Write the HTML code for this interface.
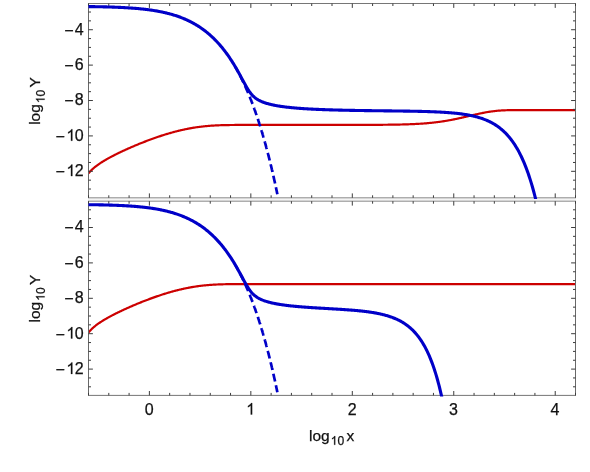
<!DOCTYPE html>
<html><head><meta charset="utf-8"><title>plot</title>
<style>
html,body{margin:0;padding:0;background:#fff;}
body{width:590px;height:472px;overflow:hidden;}
svg{display:block;font-family:"Liberation Sans",sans-serif;font-size:16px;fill:#111;will-change:transform;}
text{stroke:#111;stroke-width:0.25px;}
.al{font-size:15.5px;}
</style></head><body>
<svg width="590" height="472" viewBox="0 0 590 472">
<rect width="590" height="472" fill="#fff"/>
<clipPath id="c0"><rect x="88.00" y="3.50" width="488.30" height="194.90"/></clipPath>
<g clip-path="url(#c0)" fill="none" stroke-linejoin="round">
<path d="M88.50 173.39 L89.20 172.54 L89.89 171.75 L90.59 171.00 L91.29 170.29 L91.98 169.62 L92.68 168.97 L93.38 168.36 L94.07 167.76 L94.77 167.19 L95.47 166.63 L96.16 166.09 L96.86 165.57 L97.56 165.06 L98.25 164.56 L98.95 164.07 L99.65 163.60 L100.34 163.13 L101.04 162.68 L101.74 162.23 L102.43 161.79 L103.13 161.36 L103.83 160.94 L104.52 160.52 L105.22 160.11 L105.92 159.70 L106.61 159.30 L107.31 158.91 L108.01 158.51 L108.70 158.13 L109.40 157.75 L110.10 157.37 L110.80 157.00 L111.49 156.63 L112.19 156.26 L112.89 155.90 L113.58 155.54 L114.28 155.18 L114.98 154.83 L115.67 154.48 L116.37 154.13 L117.07 153.78 L117.76 153.44 L118.46 153.10 L119.16 152.76 L119.85 152.43 L120.55 152.10 L121.25 151.76 L121.94 151.44 L122.64 151.11 L123.34 150.79 L124.03 150.46 L124.73 150.14 L125.43 149.83 L126.12 149.51 L126.82 149.19 L127.52 148.88 L128.21 148.57 L128.91 148.26 L129.61 147.95 L130.30 147.65 L131.00 147.35 L131.70 147.04 L132.39 146.74 L133.09 146.44 L133.79 146.15 L134.48 145.85 L135.18 145.56 L135.88 145.27 L136.57 144.98 L137.27 144.69 L137.97 144.40 L138.66 144.11 L139.36 143.83 L140.06 143.55 L140.75 143.27 L141.45 142.99 L142.15 142.71 L142.84 142.43 L143.54 142.16 L144.24 141.89 L144.93 141.62 L145.63 141.35 L146.33 141.08 L147.02 140.81 L147.72 140.55 L148.42 140.29 L149.11 140.03 L149.81 139.77 L150.51 139.51 L151.20 139.25 L151.90 139.00 L152.60 138.75 L153.30 138.50 L153.99 138.25 L154.69 138.00 L155.39 137.76 L156.08 137.52 L156.78 137.28 L157.48 137.04 L158.17 136.80 L158.87 136.56 L159.57 136.33 L160.26 136.10 L160.96 135.87 L161.66 135.64 L162.35 135.42 L163.05 135.20 L163.75 134.97 L164.44 134.76 L165.14 134.54 L165.84 134.32 L166.53 134.11 L167.23 133.90 L167.93 133.69 L168.62 133.49 L169.32 133.28 L170.02 133.08 L170.71 132.88 L171.41 132.69 L172.11 132.49 L172.80 132.30 L173.50 132.11 L174.20 131.92 L174.89 131.74 L175.59 131.55 L176.29 131.37 L176.98 131.20 L177.68 131.02 L178.38 130.85 L179.07 130.68 L179.77 130.51 L180.47 130.34 L181.16 130.18 L181.86 130.02 L182.56 129.86 L183.25 129.71 L183.95 129.56 L184.65 129.41 L185.34 129.26 L186.04 129.12 L186.74 128.98 L187.43 128.84 L188.13 128.70 L188.83 128.57 L189.52 128.44 L190.22 128.31 L190.92 128.18 L191.61 128.06 L192.31 127.94 L193.01 127.82 L193.70 127.71 L194.40 127.60 L195.10 127.49 L195.80 127.38 L196.49 127.28 L197.19 127.18 L197.89 127.08 L198.58 126.99 L199.28 126.89 L199.98 126.80 L200.67 126.72 L201.37 126.63 L202.07 126.55 L202.76 126.47 L203.46 126.40 L204.16 126.32 L204.85 126.25 L205.55 126.18 L206.25 126.11 L206.94 126.05 L207.64 125.99 L208.34 125.93 L209.03 125.87 L209.73 125.82 L210.43 125.76 L211.12 125.71 L211.82 125.67 L212.52 125.62 L213.21 125.58 L213.91 125.54 L214.61 125.50 L215.30 125.46 L216.00 125.42 L216.70 125.39 L217.39 125.36 L218.09 125.33 L218.79 125.30 L219.48 125.27 L220.18 125.24 L220.88 125.22 L221.57 125.20 L222.27 125.18 L222.97 125.16 L223.66 125.14 L224.36 125.12 L225.06 125.10 L225.75 125.09 L226.45 125.08 L227.15 125.06 L227.84 125.05 L228.54 125.04 L229.24 125.03 L229.93 125.02 L230.63 125.01 L231.33 125.00 L232.02 125.00 L232.72 124.99 L233.42 124.98 L234.11 124.98 L234.81 124.97 L235.51 124.97 L236.20 124.97 L236.90 124.96 L237.60 124.96 L238.30 124.96 L238.99 124.95 L239.69 124.95 L240.39 124.95 L241.08 124.95 L241.78 124.95 L242.48 124.95 L243.17 124.94 L243.87 124.94 L244.57 124.94 L245.26 124.94 L245.96 124.94 L246.66 124.94 L247.35 124.94 L248.05 124.94 L248.75 124.94 L249.44 124.94 L250.14 124.94 L250.84 124.94 L251.53 124.94 L252.23 124.94 L252.93 124.94 L253.62 124.94 L254.32 124.94 L255.02 124.94 L255.71 124.94 L256.41 124.94 L257.11 124.94 L257.80 124.94 L258.50 124.94 L259.20 124.94 L259.89 124.94 L260.59 124.94 L261.29 124.94 L261.98 124.94 L262.68 124.94 L263.38 124.94 L264.07 124.94 L264.77 124.94 L265.47 124.94 L266.16 124.94 L266.86 124.94 L267.56 124.94 L268.25 124.94 L268.95 124.94 L269.65 124.94 L270.34 124.94 L271.04 124.94 L271.74 124.94 L272.43 124.94 L273.13 124.94 L273.83 124.94 L274.52 124.94 L275.22 124.94 L275.92 124.94 L276.61 124.94 L277.31 124.94 L278.01 124.94 L278.70 124.94 L279.40 124.94 L280.10 124.94 L280.80 124.94 L281.49 124.94 L282.19 124.94 L282.89 124.94 L283.58 124.94 L284.28 124.94 L284.98 124.94 L285.67 124.94 L286.37 124.94 L287.07 124.94 L287.76 124.94 L288.46 124.94 L289.16 124.94 L289.85 124.94 L290.55 124.94 L291.25 124.94 L291.94 124.94 L292.64 124.94 L293.34 124.94 L294.03 124.94 L294.73 124.94 L295.43 124.94 L296.12 124.94 L296.82 124.94 L297.52 124.94 L298.21 124.94 L298.91 124.94 L299.61 124.94 L300.30 124.94 L301.00 124.94 L301.70 124.93 L302.39 124.93 L303.09 124.93 L303.79 124.93 L304.48 124.93 L305.18 124.93 L305.88 124.93 L306.57 124.93 L307.27 124.93 L307.97 124.93 L308.66 124.93 L309.36 124.93 L310.06 124.93 L310.75 124.93 L311.45 124.93 L312.15 124.93 L312.84 124.93 L313.54 124.93 L314.24 124.93 L314.93 124.93 L315.63 124.93 L316.33 124.93 L317.02 124.93 L317.72 124.93 L318.42 124.93 L319.11 124.93 L319.81 124.93 L320.51 124.93 L321.20 124.93 L321.90 124.93 L322.60 124.93 L323.29 124.93 L323.99 124.93 L324.69 124.93 L325.39 124.93 L326.08 124.93 L326.78 124.93 L327.48 124.93 L328.17 124.93 L328.87 124.93 L329.57 124.93 L330.26 124.93 L330.96 124.93 L331.66 124.93 L332.35 124.93 L333.05 124.93 L333.75 124.93 L334.44 124.93 L335.14 124.93 L335.84 124.93 L336.53 124.92 L337.23 124.92 L337.93 124.92 L338.62 124.92 L339.32 124.92 L340.02 124.92 L340.71 124.92 L341.41 124.92 L342.11 124.92 L342.80 124.92 L343.50 124.92 L344.20 124.92 L344.89 124.92 L345.59 124.92 L346.29 124.92 L346.98 124.92 L347.68 124.91 L348.38 124.91 L349.07 124.91 L349.77 124.91 L350.47 124.91 L351.16 124.91 L351.86 124.91 L352.56 124.91 L353.25 124.91 L353.95 124.91 L354.65 124.90 L355.34 124.90 L356.04 124.90 L356.74 124.90 L357.43 124.90 L358.13 124.90 L358.83 124.90 L359.52 124.89 L360.22 124.89 L360.92 124.89 L361.61 124.89 L362.31 124.89 L363.01 124.88 L363.70 124.88 L364.40 124.88 L365.10 124.88 L365.79 124.88 L366.49 124.87 L367.19 124.87 L367.89 124.87 L368.58 124.87 L369.28 124.86 L369.98 124.86 L370.67 124.86 L371.37 124.85 L372.07 124.85 L372.76 124.85 L373.46 124.84 L374.16 124.84 L374.85 124.84 L375.55 124.83 L376.25 124.83 L376.94 124.82 L377.64 124.82 L378.34 124.81 L379.03 124.81 L379.73 124.80 L380.43 124.80 L381.12 124.79 L381.82 124.79 L382.52 124.78 L383.21 124.77 L383.91 124.77 L384.61 124.76 L385.30 124.75 L386.00 124.75 L386.70 124.74 L387.39 124.73 L388.09 124.72 L388.79 124.72 L389.48 124.71 L390.18 124.70 L390.88 124.69 L391.57 124.68 L392.27 124.67 L392.97 124.66 L393.66 124.65 L394.36 124.64 L395.06 124.62 L395.75 124.61 L396.45 124.60 L397.15 124.59 L397.84 124.57 L398.54 124.56 L399.24 124.54 L399.93 124.53 L400.63 124.51 L401.33 124.49 L402.02 124.48 L402.72 124.46 L403.42 124.44 L404.11 124.42 L404.81 124.40 L405.51 124.38 L406.20 124.36 L406.90 124.34 L407.60 124.32 L408.29 124.29 L408.99 124.27 L409.69 124.24 L410.39 124.21 L411.08 124.19 L411.78 124.16 L412.48 124.13 L413.17 124.10 L413.87 124.07 L414.57 124.03 L415.26 124.00 L415.96 123.97 L416.66 123.93 L417.35 123.89 L418.05 123.85 L418.75 123.81 L419.44 123.77 L420.14 123.73 L420.84 123.69 L421.53 123.64 L422.23 123.59 L422.93 123.54 L423.62 123.49 L424.32 123.44 L425.02 123.39 L425.71 123.33 L426.41 123.28 L427.11 123.22 L427.80 123.16 L428.50 123.10 L429.20 123.03 L429.89 122.97 L430.59 122.90 L431.29 122.83 L431.98 122.76 L432.68 122.68 L433.38 122.61 L434.07 122.53 L434.77 122.45 L435.47 122.37 L436.16 122.28 L436.86 122.20 L437.56 122.11 L438.25 122.02 L438.95 121.92 L439.65 121.83 L440.34 121.73 L441.04 121.63 L441.74 121.53 L442.43 121.43 L443.13 121.32 L443.83 121.21 L444.52 121.10 L445.22 120.98 L445.92 120.87 L446.61 120.75 L447.31 120.63 L448.01 120.51 L448.70 120.38 L449.40 120.26 L450.10 120.13 L450.79 120.00 L451.49 119.86 L452.19 119.73 L452.89 119.59 L453.58 119.45 L454.28 119.31 L454.98 119.17 L455.67 119.02 L456.37 118.88 L457.07 118.73 L457.76 118.58 L458.46 118.43 L459.16 118.27 L459.85 118.12 L460.55 117.97 L461.25 117.81 L461.94 117.65 L462.64 117.49 L463.34 117.33 L464.03 117.17 L464.73 117.01 L465.43 116.85 L466.12 116.69 L466.82 116.52 L467.52 116.36 L468.21 116.20 L468.91 116.03 L469.61 115.87 L470.30 115.71 L471.00 115.54 L471.70 115.38 L472.39 115.22 L473.09 115.06 L473.79 114.90 L474.48 114.74 L475.18 114.58 L475.88 114.42 L476.57 114.26 L477.27 114.11 L477.97 113.95 L478.66 113.80 L479.36 113.65 L480.06 113.50 L480.75 113.36 L481.45 113.21 L482.15 113.07 L482.84 112.93 L483.54 112.80 L484.24 112.66 L484.93 112.53 L485.63 112.40 L486.33 112.28 L487.02 112.16 L487.72 112.04 L488.42 111.92 L489.11 111.81 L489.81 111.70 L490.51 111.60 L491.20 111.50 L491.90 111.40 L492.60 111.31 L493.29 111.22 L493.99 111.13 L494.69 111.05 L495.39 110.98 L496.08 110.90 L496.78 110.83 L497.48 110.77 L498.17 110.71 L498.87 110.65 L499.57 110.59 L500.26 110.54 L500.96 110.50 L501.66 110.45 L502.35 110.41 L503.05 110.38 L503.75 110.34 L504.44 110.31 L505.14 110.29 L505.84 110.26 L506.53 110.24 L507.23 110.22 L507.93 110.20 L508.62 110.19 L509.32 110.18 L510.02 110.16 L510.71 110.15 L511.41 110.15 L512.11 110.14 L512.80 110.13 L513.50 110.13 L514.20 110.12 L514.89 110.12 L515.59 110.12 L516.29 110.11 L516.98 110.11 L517.68 110.11 L518.38 110.11 L519.07 110.11 L519.77 110.11 L520.47 110.11 L521.16 110.11 L521.86 110.11 L522.56 110.11 L523.25 110.11 L523.95 110.11 L524.65 110.11 L525.34 110.11 L526.04 110.11 L526.74 110.11 L527.43 110.11 L528.13 110.11 L528.83 110.11 L529.52 110.11 L530.22 110.11 L530.92 110.11 L531.61 110.11 L532.31 110.11 L533.01 110.11 L533.70 110.11 L534.40 110.11 L535.10 110.11 L535.79 110.11 L536.49 110.11 L537.19 110.11 L537.89 110.11 L538.58 110.11 L539.28 110.11 L539.98 110.11 L540.67 110.11 L541.37 110.11 L542.07 110.11 L542.76 110.11 L543.46 110.11 L544.16 110.11 L544.85 110.11 L545.55 110.11 L546.25 110.11 L546.94 110.11 L547.64 110.11 L548.34 110.11 L549.03 110.11 L549.73 110.11 L550.43 110.11 L551.12 110.11 L551.82 110.11 L552.52 110.11 L553.21 110.11 L553.91 110.11 L554.61 110.11 L555.30 110.11 L556.00 110.11 L556.70 110.11 L557.39 110.11 L558.09 110.11 L558.79 110.11 L559.48 110.11 L560.18 110.11 L560.88 110.11 L561.57 110.11 L562.27 110.11 L562.97 110.11 L563.66 110.11 L564.36 110.11 L565.06 110.11 L565.75 110.11 L566.45 110.11 L567.15 110.11 L567.84 110.11 L568.54 110.11 L569.24 110.11 L569.93 110.11 L570.63 110.11 L571.33 110.11 L572.02 110.11 L572.72 110.11 L573.42 110.11 L574.11 110.11 L574.81 110.11 L575.51 110.11" stroke="#cc0000" stroke-width="2.2"/>
</g>
<g stroke="#686868" stroke-width="1" fill="none">
<rect x="88.00" y="197.8" width="488.00" height="3.4" fill="#f4f4f4" stroke="none"/>
<path d="M88.50 3.50 V197.80 M575.50 3.50 V197.80"/>
<path d="M88.00 3.50 H576.00" stroke="#767676"/>
<path d="M88.00 197.80 H576.00" stroke="#8a8a8a"/>
<path stroke="#3c3c3c" d="M88.50 197.80 v-2.50 M88.50 3.50 v2.50 M108.79 197.80 v-2.50 M108.79 3.50 v2.50 M129.08 197.80 v-2.50 M129.08 3.50 v2.50 M149.38 197.80 v-4.40 M149.38 3.50 v4.40 M169.67 197.80 v-2.50 M169.67 3.50 v2.50 M189.96 197.80 v-2.50 M189.96 3.50 v2.50 M210.25 197.80 v-2.50 M210.25 3.50 v2.50 M230.54 197.80 v-2.50 M230.54 3.50 v2.50 M250.84 197.80 v-4.40 M250.84 3.50 v4.40 M271.13 197.80 v-2.50 M271.13 3.50 v2.50 M291.42 197.80 v-2.50 M291.42 3.50 v2.50 M311.71 197.80 v-2.50 M311.71 3.50 v2.50 M332.00 197.80 v-2.50 M332.00 3.50 v2.50 M352.30 197.80 v-4.40 M352.30 3.50 v4.40 M372.59 197.80 v-2.50 M372.59 3.50 v2.50 M392.88 197.80 v-2.50 M392.88 3.50 v2.50 M413.17 197.80 v-2.50 M413.17 3.50 v2.50 M433.46 197.80 v-2.50 M433.46 3.50 v2.50 M453.76 197.80 v-4.40 M453.76 3.50 v4.40 M474.05 197.80 v-2.50 M474.05 3.50 v2.50 M494.34 197.80 v-2.50 M494.34 3.50 v2.50 M514.63 197.80 v-2.50 M514.63 3.50 v2.50 M534.92 197.80 v-2.50 M534.92 3.50 v2.50 M555.22 197.80 v-4.40 M555.22 3.50 v4.40 M575.51 197.80 v-2.50 M575.51 3.50 v2.50 M88.50 189.02 h2.50 M575.50 189.02 h-2.50 M88.50 180.17 h2.50 M575.50 180.17 h-2.50 M88.50 171.32 h4.40 M575.50 171.32 h-4.40 M88.50 162.47 h2.50 M575.50 162.47 h-2.50 M88.50 153.62 h2.50 M575.50 153.62 h-2.50 M88.50 144.77 h2.50 M575.50 144.77 h-2.50 M88.50 135.92 h4.40 M575.50 135.92 h-4.40 M88.50 127.07 h2.50 M575.50 127.07 h-2.50 M88.50 118.22 h2.50 M575.50 118.22 h-2.50 M88.50 109.37 h2.50 M575.50 109.37 h-2.50 M88.50 100.52 h4.40 M575.50 100.52 h-4.40 M88.50 91.67 h2.50 M575.50 91.67 h-2.50 M88.50 82.82 h2.50 M575.50 82.82 h-2.50 M88.50 73.97 h2.50 M575.50 73.97 h-2.50 M88.50 65.12 h4.40 M575.50 65.12 h-4.40 M88.50 56.27 h2.50 M575.50 56.27 h-2.50 M88.50 47.42 h2.50 M575.50 47.42 h-2.50 M88.50 38.57 h2.50 M575.50 38.57 h-2.50 M88.50 29.72 h4.40 M575.50 29.72 h-4.40 M88.50 20.87 h2.50 M575.50 20.87 h-2.50 M88.50 12.02 h2.50 M575.50 12.02 h-2.50"/>
</g>
<clipPath id="b0"><rect x="88.00" y="3.00" width="488.30" height="196.00"/></clipPath>
<g clip-path="url(#b0)" fill="none" stroke-linejoin="round">
<path d="M235.62 67.44 L235.73 67.64 L235.85 67.84 L235.96 68.04 L236.07 68.24 L236.19 68.44 L236.30 68.64 L236.42 68.84 L236.53 69.05 L236.65 69.25 L236.76 69.45 L236.88 69.66 L236.99 69.86 L237.10 70.07 L237.22 70.27 L237.33 70.48 L237.45 70.69 L237.56 70.90 L237.68 71.11 L237.79 71.31 L237.91 71.52 L238.02 71.73 L238.13 71.95 L238.25 72.16 L238.36 72.37 L238.48 72.58 L238.59 72.80 L238.71 73.01 L238.82 73.23 L238.94 73.44 L239.05 73.66 L239.16 73.87 L239.28 74.09 L239.39 74.31 L239.51 74.53 L239.62 74.75 L239.74 74.97 L239.85 75.19 L239.97 75.41 L240.08 75.63 L240.19 75.85 L240.31 76.08 L240.42 76.30 L240.54 76.52 L240.65 76.75 L240.77 76.98 L240.88 77.20 L241.00 77.43 L241.11 77.66 L241.22 77.88 L241.34 78.11 L241.45 78.34 L241.57 78.57 L241.68 78.80 L241.80 79.04 L241.91 79.27 L242.02 79.50 L242.14 79.73 L242.25 79.97 L242.37 80.20 L242.48 80.44 L242.60 80.68 L242.71 80.91 L242.83 81.15 L242.94 81.39 L243.05 81.63 L243.17 81.87 L243.28 82.11 L243.40 82.35 L243.51 82.59 L243.63 82.83 L243.74 83.08 L243.86 83.32 L243.97 83.56 L244.08 83.81 L244.20 84.06 L244.31 84.30 L244.43 84.55 L244.54 84.80 L244.66 85.05 L244.77 85.30 L244.89 85.55 L245.00 85.80 L245.11 86.05 L245.23 86.30 L245.34 86.55 L245.46 86.81 L245.57 87.06 L245.69 87.32 L245.80 87.57 L245.92 87.83 L246.03 88.09 L246.14 88.35 L246.26 88.61 L246.37 88.86 L246.49 89.13 L246.60 89.39 L246.72 89.65 L246.83 89.91 L246.95 90.17 L247.06 90.44 L247.17 90.70 L247.29 90.97 L247.40 91.24 L247.52 91.50 L247.63 91.77 L247.75 92.04 L247.86 92.31 L247.98 92.58 L248.09 92.85 L248.20 93.12 L248.32 93.39 L248.43 93.67 L248.55 93.94 L248.66 94.22 L248.78 94.49 L248.89 94.77 L249.01 95.05 L249.12 95.32 L249.23 95.60 L249.35 95.88 L249.46 96.16 L249.58 96.44 L249.69 96.73 L249.81 97.01 L249.92 97.29 L250.03 97.58 L250.15 97.86 L250.26 98.15 L250.38 98.43 L250.49 98.72 L250.61 99.01 L250.72 99.30 L250.84 99.59 L250.95 99.88 L251.06 100.17 L251.18 100.47 L251.29 100.76 L251.41 101.05 L251.52 101.35 L251.64 101.64 L251.75 101.94 L251.87 102.24 L251.98 102.54 L252.09 102.84 L252.21 103.14 L252.32 103.44 L252.44 103.74 L252.55 104.04 L252.67 104.34 L252.78 104.65 L252.90 104.95 L253.01 105.26 L253.12 105.57 L253.24 105.88 L253.35 106.18 L253.47 106.49 L253.58 106.80 L253.70 107.11 L253.81 107.43 L253.93 107.74 L254.04 108.05 L254.15 108.37 L254.27 108.68 L254.38 109.00 L254.50 109.32 L254.61 109.64 L254.73 109.96 L254.84 110.28 L254.96 110.60 L255.07 110.92 L255.18 111.24 L255.30 111.57 L255.41 111.89 L255.53 112.22 L255.64 112.54 L255.76 112.87 L255.87 113.20 L255.99 113.53 L256.10 113.86 L256.21 114.19 L256.33 114.52 L256.44 114.85 L256.56 115.19 L256.67 115.52 L256.79 115.86 L256.90 116.20 L257.02 116.53 L257.13 116.87 L257.24 117.21 L257.36 117.55 L257.47 117.89 L257.59 118.24 L257.70 118.58 L257.82 118.92 L257.93 119.27 L258.04 119.61 L258.16 119.96 L258.27 120.31 L258.39 120.66 L258.50 121.01 L258.62 121.36 L258.73 121.71 L258.85 122.07 L258.96 122.42 L259.07 122.77 L259.19 123.13 L259.30 123.49 L259.42 123.85 L259.53 124.21 L259.65 124.57 L259.76 124.93 L259.88 125.29 L259.99 125.65 L260.10 126.02 L260.22 126.38 L260.33 126.75 L260.45 127.11 L260.56 127.48 L260.68 127.85 L260.79 128.22 L260.91 128.59 L261.02 128.96 L261.13 129.34 L261.25 129.71 L261.36 130.09 L261.48 130.46 L261.59 130.84 L261.71 131.22 L261.82 131.60 L261.94 131.98 L262.05 132.36 L262.16 132.75 L262.28 133.13 L262.39 133.51 L262.51 133.90 L262.62 134.29 L262.74 134.68 L262.85 135.06 L262.97 135.45 L263.08 135.85 L263.19 136.24 L263.31 136.63 L263.42 137.03 L263.54 137.42 L263.65 137.82 L263.77 138.22 L263.88 138.62 L264.00 139.02 L264.11 139.42 L264.22 139.82 L264.34 140.22 L264.45 140.63 L264.57 141.03 L264.68 141.44 L264.80 141.85 L264.91 142.26 L265.03 142.67 L265.14 143.08 L265.25 143.49 L265.37 143.91 L265.48 144.32 L265.60 144.74 L265.71 145.15 L265.83 145.57 L265.94 145.99 L266.05 146.41 L266.17 146.83 L266.28 147.26 L266.40 147.68 L266.51 148.11 L266.63 148.53 L266.74 148.96 L266.86 149.39 L266.97 149.82 L267.08 150.25 L267.20 150.68 L267.31 151.12 L267.43 151.55 L267.54 151.99 L267.66 152.42 L267.77 152.86 L267.89 153.30 L268.00 153.74 L268.11 154.19 L268.23 154.63 L268.34 155.07 L268.46 155.52 L268.57 155.97 L268.69 156.41 L268.80 156.86 L268.92 157.31 L269.03 157.77 L269.14 158.22 L269.26 158.67 L269.37 159.13 L269.49 159.59 L269.60 160.04 L269.72 160.50 L269.83 160.96 L269.95 161.43 L270.06 161.89 L270.17 162.35 L270.29 162.82 L270.40 163.29 L270.52 163.75 L270.63 164.22 L270.75 164.69 L270.86 165.17 L270.98 165.64 L271.09 166.12 L271.20 166.59 L271.32 167.07 L271.43 167.55 L271.55 168.03 L271.66 168.51 L271.78 168.99 L271.89 169.48 L272.01 169.96 L272.12 170.45 L272.23 170.94 L272.35 171.42 L272.46 171.92 L272.58 172.41 L272.69 172.90 L272.81 173.40 L272.92 173.89 L273.04 174.39 L273.15 174.89 L273.26 175.39 L273.38 175.89 L273.49 176.39 L273.61 176.90 L273.72 177.40 L273.84 177.91 L273.95 178.42 L274.06 178.93 L274.18 179.44 L274.29 179.95 L274.41 180.47 L274.52 180.98 L274.64 181.50 L274.75 182.02 L274.87 182.54 L274.98 183.06 L275.09 183.58 L275.21 184.10 L275.32 184.63 L275.44 185.16 L275.55 185.68 L275.67 186.21 L275.78 186.75 L275.90 187.28 L276.01 187.81 L276.12 188.35 L276.24 188.88 L276.35 189.42 L276.47 189.96 L276.58 190.50 L276.70 191.05 L276.81 191.59 L276.93 192.14 L277.04 192.69 L277.15 193.23 L277.27 193.78 L277.38 194.34" stroke="#0000c8" stroke-width="2.7" stroke-dasharray="7.9 3.9" stroke-dashoffset="2.90"/>
<path d="M88.50 6.58 L89.20 6.59 L89.89 6.60 L90.59 6.61 L91.29 6.62 L91.98 6.63 L92.68 6.64 L93.38 6.65 L94.07 6.66 L94.77 6.67 L95.47 6.68 L96.16 6.69 L96.86 6.70 L97.56 6.72 L98.25 6.73 L98.95 6.74 L99.65 6.76 L100.34 6.77 L101.04 6.79 L101.74 6.80 L102.43 6.82 L103.13 6.83 L103.83 6.85 L104.52 6.87 L105.22 6.88 L105.92 6.90 L106.61 6.92 L107.31 6.94 L108.01 6.96 L108.70 6.98 L109.40 7.00 L110.10 7.02 L110.80 7.04 L111.49 7.07 L112.19 7.09 L112.89 7.11 L113.58 7.14 L114.28 7.16 L114.98 7.19 L115.67 7.22 L116.37 7.24 L117.07 7.27 L117.76 7.30 L118.46 7.33 L119.16 7.36 L119.85 7.39 L120.55 7.42 L121.25 7.46 L121.94 7.49 L122.64 7.53 L123.34 7.56 L124.03 7.60 L124.73 7.64 L125.43 7.68 L126.12 7.72 L126.82 7.76 L127.52 7.80 L128.21 7.84 L128.91 7.89 L129.61 7.93 L130.30 7.98 L131.00 8.03 L131.70 8.08 L132.39 8.13 L133.09 8.18 L133.79 8.23 L134.48 8.29 L135.18 8.34 L135.88 8.40 L136.57 8.46 L137.27 8.52 L137.97 8.58 L138.66 8.65 L139.36 8.71 L140.06 8.78 L140.75 8.85 L141.45 8.92 L142.15 8.99 L142.84 9.07 L143.54 9.15 L144.24 9.22 L144.93 9.30 L145.63 9.39 L146.33 9.47 L147.02 9.56 L147.72 9.65 L148.42 9.74 L149.11 9.83 L149.81 9.92 L150.51 10.02 L151.20 10.12 L151.90 10.23 L152.60 10.33 L153.30 10.44 L153.99 10.55 L154.69 10.66 L155.39 10.78 L156.08 10.90 L156.78 11.02 L157.48 11.14 L158.17 11.27 L158.87 11.40 L159.57 11.53 L160.26 11.67 L160.96 11.81 L161.66 11.95 L162.35 12.10 L163.05 12.25 L163.75 12.40 L164.44 12.55 L165.14 12.71 L165.84 12.88 L166.53 13.05 L167.23 13.22 L167.93 13.39 L168.62 13.57 L169.32 13.76 L170.02 13.94 L170.71 14.13 L171.41 14.33 L172.11 14.53 L172.80 14.74 L173.50 14.95 L174.20 15.16 L174.89 15.38 L175.59 15.60 L176.29 15.83 L176.98 16.06 L177.68 16.30 L178.38 16.55 L179.07 16.80 L179.77 17.05 L180.47 17.31 L181.16 17.58 L181.86 17.85 L182.56 18.12 L183.25 18.41 L183.95 18.70 L184.65 18.99 L185.34 19.29 L186.04 19.60 L186.74 19.91 L187.43 20.23 L188.13 20.56 L188.83 20.90 L189.52 21.24 L190.22 21.58 L190.92 21.94 L191.61 22.30 L192.31 22.67 L193.01 23.05 L193.70 23.44 L194.40 23.83 L195.10 24.23 L195.80 24.64 L196.49 25.06 L197.19 25.48 L197.89 25.92 L198.58 26.36 L199.28 26.81 L199.98 27.28 L200.67 27.75 L201.37 28.23 L202.07 28.71 L202.76 29.21 L203.46 29.72 L204.16 30.24 L204.85 30.77 L205.55 31.31 L206.25 31.86 L206.94 32.42 L207.64 32.99 L208.34 33.57 L209.03 34.17 L209.73 34.77 L210.43 35.39 L211.12 36.02 L211.82 36.66 L212.52 37.31 L213.21 37.98 L213.91 38.65 L214.61 39.34 L215.30 40.05 L216.00 40.76 L216.70 41.50 L217.39 42.24 L218.09 43.00 L218.79 43.77 L219.48 44.56 L220.18 45.36 L220.88 46.17 L221.57 47.01 L222.27 47.85 L222.97 48.71 L223.66 49.59 L224.36 50.49 L225.06 51.40 L225.75 52.32 L226.45 53.27 L227.15 54.23 L227.84 55.21 L228.54 56.20 L229.24 57.22 L229.93 58.25 L230.63 59.30 L231.33 60.36 L232.02 61.45 L232.72 62.55 L233.42 63.68 L234.11 64.82 L234.81 65.98 L235.51 67.15 L236.20 68.35 L236.90 69.56 L237.60 70.79 L238.30 72.03 L238.99 73.29 L239.69 74.56 L240.39 75.84 L241.08 77.13 L241.78 78.43 L242.48 79.73 L243.17 81.02 L243.87 82.31 L244.57 83.58 L245.26 84.84 L245.96 86.07 L246.66 87.27 L247.35 88.43 L248.05 89.54 L248.75 90.61 L249.44 91.62 L250.14 92.57 L250.84 93.47 L251.53 94.31 L252.23 95.09 L252.93 95.81 L253.62 96.48 L254.32 97.10 L255.02 97.68 L255.71 98.21 L256.41 98.71 L257.11 99.17 L257.80 99.60 L258.50 100.01 L259.20 100.38 L259.89 100.74 L260.59 101.07 L261.29 101.39 L261.98 101.69 L262.68 101.97 L263.38 102.24 L264.07 102.50 L264.77 102.74 L265.47 102.98 L266.16 103.20 L266.86 103.41 L267.56 103.61 L268.25 103.81 L268.95 104.00 L269.65 104.18 L270.34 104.35 L271.04 104.52 L271.74 104.68 L272.43 104.84 L273.13 104.99 L273.83 105.13 L274.52 105.27 L275.22 105.41 L275.92 105.54 L276.61 105.66 L277.31 105.79 L278.01 105.91 L278.70 106.02 L279.40 106.13 L280.10 106.24 L280.80 106.35 L281.49 106.45 L282.19 106.55 L282.89 106.65 L283.58 106.74 L284.28 106.83 L284.98 106.92 L285.67 107.01 L286.37 107.09 L287.07 107.17 L287.76 107.25 L288.46 107.33 L289.16 107.41 L289.85 107.48 L290.55 107.55 L291.25 107.62 L291.94 107.69 L292.64 107.76 L293.34 107.82 L294.03 107.89 L294.73 107.95 L295.43 108.01 L296.12 108.07 L296.82 108.13 L297.52 108.18 L298.21 108.24 L298.91 108.29 L299.61 108.35 L300.30 108.40 L301.00 108.45 L301.70 108.50 L302.39 108.55 L303.09 108.59 L303.79 108.64 L304.48 108.69 L305.18 108.73 L305.88 108.77 L306.57 108.82 L307.27 108.86 L307.97 108.90 L308.66 108.94 L309.36 108.98 L310.06 109.02 L310.75 109.05 L311.45 109.09 L312.15 109.13 L312.84 109.16 L313.54 109.20 L314.24 109.23 L314.93 109.26 L315.63 109.30 L316.33 109.33 L317.02 109.36 L317.72 109.39 L318.42 109.42 L319.11 109.45 L319.81 109.48 L320.51 109.51 L321.20 109.53 L321.90 109.56 L322.60 109.59 L323.29 109.62 L323.99 109.64 L324.69 109.67 L325.39 109.69 L326.08 109.72 L326.78 109.74 L327.48 109.76 L328.17 109.79 L328.87 109.81 L329.57 109.83 L330.26 109.85 L330.96 109.87 L331.66 109.90 L332.35 109.92 L333.05 109.94 L333.75 109.96 L334.44 109.98 L335.14 110.00 L335.84 110.01 L336.53 110.03 L337.23 110.05 L337.93 110.07 L338.62 110.09 L339.32 110.10 L340.02 110.12 L340.71 110.14 L341.41 110.16 L342.11 110.17 L342.80 110.19 L343.50 110.20 L344.20 110.22 L344.89 110.23 L345.59 110.25 L346.29 110.26 L346.98 110.28 L347.68 110.29 L348.38 110.31 L349.07 110.32 L349.77 110.33 L350.47 110.35 L351.16 110.36 L351.86 110.37 L352.56 110.39 L353.25 110.40 L353.95 110.41 L354.65 110.42 L355.34 110.44 L356.04 110.45 L356.74 110.46 L357.43 110.47 L358.13 110.48 L358.83 110.49 L359.52 110.50 L360.22 110.52 L360.92 110.53 L361.61 110.54 L362.31 110.55 L363.01 110.56 L363.70 110.57 L364.40 110.58 L365.10 110.59 L365.79 110.60 L366.49 110.61 L367.19 110.62 L367.89 110.63 L368.58 110.64 L369.28 110.65 L369.98 110.66 L370.67 110.67 L371.37 110.67 L372.07 110.68 L372.76 110.69 L373.46 110.70 L374.16 110.71 L374.85 110.72 L375.55 110.73 L376.25 110.74 L376.94 110.75 L377.64 110.75 L378.34 110.76 L379.03 110.77 L379.73 110.78 L380.43 110.79 L381.12 110.80 L381.82 110.80 L382.52 110.81 L383.21 110.82 L383.91 110.83 L384.61 110.84 L385.30 110.85 L386.00 110.85 L386.70 110.86 L387.39 110.87 L388.09 110.88 L388.79 110.89 L389.48 110.90 L390.18 110.90 L390.88 110.91 L391.57 110.92 L392.27 110.93 L392.97 110.94 L393.66 110.95 L394.36 110.95 L395.06 110.96 L395.75 110.97 L396.45 110.98 L397.15 110.99 L397.84 111.00 L398.54 111.01 L399.24 111.02 L399.93 111.03 L400.63 111.04 L401.33 111.05 L402.02 111.06 L402.72 111.07 L403.42 111.08 L404.11 111.09 L404.81 111.10 L405.51 111.11 L406.20 111.12 L406.90 111.13 L407.60 111.14 L408.29 111.15 L408.99 111.16 L409.69 111.17 L410.39 111.18 L411.08 111.20 L411.78 111.21 L412.48 111.22 L413.17 111.23 L413.87 111.25 L414.57 111.26 L415.26 111.27 L415.96 111.29 L416.66 111.30 L417.35 111.32 L418.05 111.33 L418.75 111.35 L419.44 111.36 L420.14 111.38 L420.84 111.40 L421.53 111.41 L422.23 111.43 L422.93 111.45 L423.62 111.47 L424.32 111.49 L425.02 111.50 L425.71 111.52 L426.41 111.54 L427.11 111.57 L427.80 111.59 L428.50 111.61 L429.20 111.63 L429.89 111.66 L430.59 111.68 L431.29 111.70 L431.98 111.73 L432.68 111.76 L433.38 111.78 L434.07 111.81 L434.77 111.84 L435.47 111.87 L436.16 111.90 L436.86 111.93 L437.56 111.96 L438.25 112.00 L438.95 112.03 L439.65 112.06 L440.34 112.10 L441.04 112.14 L441.74 112.18 L442.43 112.22 L443.13 112.26 L443.83 112.30 L444.52 112.34 L445.22 112.39 L445.92 112.43 L446.61 112.48 L447.31 112.53 L448.01 112.58 L448.70 112.63 L449.40 112.69 L450.10 112.74 L450.79 112.80 L451.49 112.86 L452.19 112.92 L452.89 112.98 L453.58 113.05 L454.28 113.11 L454.98 113.18 L455.67 113.26 L456.37 113.33 L457.07 113.40 L457.76 113.48 L458.46 113.56 L459.16 113.65 L459.85 113.73 L460.55 113.82 L461.25 113.91 L461.94 114.01 L462.64 114.11 L463.34 114.21 L464.03 114.31 L464.73 114.42 L465.43 114.53 L466.12 114.64 L466.82 114.76 L467.52 114.88 L468.21 115.01 L468.91 115.14 L469.61 115.27 L470.30 115.41 L471.00 115.55 L471.70 115.70 L472.39 115.85 L473.09 116.01 L473.79 116.17 L474.48 116.34 L475.18 116.51 L475.88 116.69 L476.57 116.87 L477.27 117.06 L477.97 117.26 L478.66 117.46 L479.36 117.67 L480.06 117.89 L480.75 118.11 L481.45 118.34 L482.15 118.58 L482.84 118.82 L483.54 119.08 L484.24 119.34 L484.93 119.61 L485.63 119.89 L486.33 120.17 L487.02 120.47 L487.72 120.78 L488.42 121.10 L489.11 121.42 L489.81 121.76 L490.51 122.11 L491.20 122.47 L491.90 122.84 L492.60 123.22 L493.29 123.62 L493.99 124.03 L494.69 124.45 L495.39 124.89 L496.08 125.34 L496.78 125.80 L497.48 126.28 L498.17 126.78 L498.87 127.29 L499.57 127.82 L500.26 128.36 L500.96 128.93 L501.66 129.51 L502.35 130.11 L503.05 130.73 L503.75 131.37 L504.44 132.03 L505.14 132.71 L505.84 133.42 L506.53 134.14 L507.23 134.89 L507.93 135.67 L508.62 136.47 L509.32 137.30 L510.02 138.15 L510.71 139.03 L511.41 139.94 L512.11 140.88 L512.80 141.85 L513.50 142.85 L514.20 143.89 L514.89 144.96 L515.59 146.06 L516.29 147.20 L516.98 148.37 L517.68 149.59 L518.38 150.84 L519.07 152.14 L519.77 153.47 L520.47 154.85 L521.16 156.28 L521.86 157.75 L522.56 159.27 L523.25 160.84 L523.95 162.46 L524.65 164.13 L525.34 165.86 L526.04 167.64 L526.74 169.48 L527.43 171.38 L528.13 173.34 L528.83 175.37 L529.52 177.46 L530.22 179.62 L530.92 181.86 L531.61 184.16 L532.31 186.54 L533.01 188.99 L533.70 191.53 L534.40 194.15 L535.10 196.85 L535.79 199.64 L536.49 202.53 L537.19 205.50 L537.89 208.58" stroke="#0000c8" stroke-width="3.1"/>
</g>
<text x="83.7" y="34.52" text-anchor="end">4</text>
<text x="64.25" y="35.52" stroke-width="0.5">−</text>
<text x="83.7" y="69.92" text-anchor="end">6</text>
<text x="64.25" y="70.92" stroke-width="0.5">−</text>
<text x="83.7" y="105.32" text-anchor="end">8</text>
<text x="64.25" y="106.32" stroke-width="0.5">−</text>
<text x="83.7" y="140.72" text-anchor="end">0</text>
<path d="M763 0H583V1147Q518 1085 412.5 1023T223 930V1104Q374 1175 487 1276T647 1472H763Z" transform="translate(66.40 140.72) scale(0.00781 -0.00781)" fill="#111" stroke="#111" stroke-width="32.0" />
<text x="55.60" y="141.72" stroke-width="0.5">−</text>
<text x="83.7" y="176.12" text-anchor="end">2</text>
<path d="M763 0H583V1147Q518 1085 412.5 1023T223 930V1104Q374 1175 487 1276T647 1472H763Z" transform="translate(66.40 176.12) scale(0.00781 -0.00781)" fill="#111" stroke="#111" stroke-width="32.0" />
<text x="55.60" y="177.12" stroke-width="0.5">−</text>
<g class="al" transform="translate(40.3 100.65) rotate(-90)"><text x="-24.2" y="0">log</text><text x="4.23" y="4.3" font-size="12.1">0</text><path d="M763 0H583V1147Q518 1085 412.5 1023T223 930V1104Q374 1175 487 1276T647 1472H763Z" transform="translate(-2.50 4.30) scale(0.00591 -0.00591)" fill="#111" stroke="#111" stroke-width="42.3" /><text x="13.2" y="0">Y</text></g>
<clipPath id="c1"><rect x="88.00" y="201.20" width="488.30" height="194.80"/></clipPath>
<g clip-path="url(#c1)" fill="none" stroke-linejoin="round">
<path d="M88.50 332.52 L89.20 331.67 L89.89 330.88 L90.59 330.13 L91.29 329.42 L91.98 328.75 L92.68 328.10 L93.38 327.48 L94.07 326.89 L94.77 326.31 L95.47 325.76 L96.16 325.22 L96.86 324.69 L97.56 324.18 L98.25 323.69 L98.95 323.20 L99.65 322.73 L100.34 322.26 L101.04 321.81 L101.74 321.36 L102.43 320.92 L103.13 320.49 L103.83 320.06 L104.52 319.65 L105.22 319.24 L105.92 318.83 L106.61 318.43 L107.31 318.03 L108.01 317.64 L108.70 317.26 L109.40 316.87 L110.10 316.50 L110.80 316.12 L111.49 315.75 L112.19 315.39 L112.89 315.02 L113.58 314.66 L114.28 314.31 L114.98 313.95 L115.67 313.60 L116.37 313.26 L117.07 312.91 L117.76 312.57 L118.46 312.23 L119.16 311.89 L119.85 311.56 L120.55 311.22 L121.25 310.89 L121.94 310.56 L122.64 310.24 L123.34 309.91 L124.03 309.59 L124.73 309.27 L125.43 308.95 L126.12 308.64 L126.82 308.32 L127.52 308.01 L128.21 307.70 L128.91 307.39 L129.61 307.08 L130.30 306.78 L131.00 306.47 L131.70 306.17 L132.39 305.87 L133.09 305.57 L133.79 305.27 L134.48 304.98 L135.18 304.69 L135.88 304.39 L136.57 304.10 L137.27 303.81 L137.97 303.53 L138.66 303.24 L139.36 302.96 L140.06 302.67 L140.75 302.39 L141.45 302.12 L142.15 301.84 L142.84 301.56 L143.54 301.29 L144.24 301.01 L144.93 300.74 L145.63 300.47 L146.33 300.21 L147.02 299.94 L147.72 299.68 L148.42 299.41 L149.11 299.15 L149.81 298.90 L150.51 298.64 L151.20 298.38 L151.90 298.13 L152.60 297.88 L153.30 297.63 L153.99 297.38 L154.69 297.13 L155.39 296.89 L156.08 296.64 L156.78 296.40 L157.48 296.16 L158.17 295.93 L158.87 295.69 L159.57 295.46 L160.26 295.23 L160.96 295.00 L161.66 294.77 L162.35 294.55 L163.05 294.32 L163.75 294.10 L164.44 293.88 L165.14 293.67 L165.84 293.45 L166.53 293.24 L167.23 293.03 L167.93 292.82 L168.62 292.61 L169.32 292.41 L170.02 292.21 L170.71 292.01 L171.41 291.81 L172.11 291.62 L172.80 291.43 L173.50 291.24 L174.20 291.05 L174.89 290.86 L175.59 290.68 L176.29 290.50 L176.98 290.32 L177.68 290.15 L178.38 289.97 L179.07 289.80 L179.77 289.64 L180.47 289.47 L181.16 289.31 L181.86 289.15 L182.56 288.99 L183.25 288.84 L183.95 288.69 L184.65 288.54 L185.34 288.39 L186.04 288.24 L186.74 288.10 L187.43 287.96 L188.13 287.83 L188.83 287.70 L189.52 287.56 L190.22 287.44 L190.92 287.31 L191.61 287.19 L192.31 287.07 L193.01 286.95 L193.70 286.84 L194.40 286.73 L195.10 286.62 L195.80 286.51 L196.49 286.41 L197.19 286.31 L197.89 286.21 L198.58 286.11 L199.28 286.02 L199.98 285.93 L200.67 285.85 L201.37 285.76 L202.07 285.68 L202.76 285.60 L203.46 285.52 L204.16 285.45 L204.85 285.38 L205.55 285.31 L206.25 285.24 L206.94 285.18 L207.64 285.12 L208.34 285.06 L209.03 285.00 L209.73 284.94 L210.43 284.89 L211.12 284.84 L211.82 284.79 L212.52 284.75 L213.21 284.70 L213.91 284.66 L214.61 284.62 L215.30 284.59 L216.00 284.55 L216.70 284.52 L217.39 284.48 L218.09 284.45 L218.79 284.42 L219.48 284.40 L220.18 284.37 L220.88 284.35 L221.57 284.32 L222.27 284.30 L222.97 284.28 L223.66 284.27 L224.36 284.25 L225.06 284.23 L225.75 284.22 L226.45 284.20 L227.15 284.19 L227.84 284.18 L228.54 284.17 L229.24 284.16 L229.93 284.15 L230.63 284.14 L231.33 284.13 L232.02 284.12 L232.72 284.12 L233.42 284.11 L234.11 284.11 L234.81 284.10 L235.51 284.10 L236.20 284.09 L236.90 284.09 L237.60 284.09 L238.30 284.08 L238.99 284.08 L239.69 284.08 L240.39 284.08 L241.08 284.08 L241.78 284.07 L242.48 284.07 L243.17 284.07 L243.87 284.07 L244.57 284.07 L245.26 284.07 L245.96 284.07 L246.66 284.07 L247.35 284.07 L248.05 284.07 L248.75 284.07 L249.44 284.07 L250.14 284.07 L250.84 284.07 L251.53 284.07 L252.23 284.06 L252.93 284.06 L253.62 284.06 L254.32 284.06 L255.02 284.06 L255.71 284.06 L256.41 284.06 L257.11 284.06 L257.80 284.06 L258.50 284.06 L259.20 284.06 L259.89 284.06 L260.59 284.06 L261.29 284.06 L261.98 284.06 L262.68 284.06 L263.38 284.06 L264.07 284.06 L264.77 284.06 L265.47 284.06 L266.16 284.06 L266.86 284.06 L267.56 284.06 L268.25 284.06 L268.95 284.06 L269.65 284.06 L270.34 284.06 L271.04 284.06 L271.74 284.06 L272.43 284.06 L273.13 284.06 L273.83 284.06 L274.52 284.06 L275.22 284.06 L275.92 284.06 L276.61 284.06 L277.31 284.06 L278.01 284.06 L278.70 284.06 L279.40 284.06 L280.10 284.06 L280.80 284.06 L281.49 284.06 L282.19 284.06 L282.89 284.06 L283.58 284.06 L284.28 284.06 L284.98 284.06 L285.67 284.06 L286.37 284.06 L287.07 284.06 L287.76 284.06 L288.46 284.06 L289.16 284.06 L289.85 284.06 L290.55 284.06 L291.25 284.06 L291.94 284.06 L292.64 284.06 L293.34 284.06 L294.03 284.06 L294.73 284.06 L295.43 284.06 L296.12 284.06 L296.82 284.06 L297.52 284.06 L298.21 284.06 L298.91 284.06 L299.61 284.06 L300.30 284.06 L301.00 284.06 L301.70 284.06 L302.39 284.06 L303.09 284.06 L303.79 284.06 L304.48 284.06 L305.18 284.06 L305.88 284.06 L306.57 284.06 L307.27 284.06 L307.97 284.06 L308.66 284.06 L309.36 284.06 L310.06 284.06 L310.75 284.06 L311.45 284.06 L312.15 284.06 L312.84 284.06 L313.54 284.06 L314.24 284.06 L314.93 284.06 L315.63 284.06 L316.33 284.06 L317.02 284.06 L317.72 284.06 L318.42 284.06 L319.11 284.06 L319.81 284.06 L320.51 284.06 L321.20 284.06 L321.90 284.06 L322.60 284.06 L323.29 284.06 L323.99 284.06 L324.69 284.06 L325.39 284.06 L326.08 284.06 L326.78 284.06 L327.48 284.06 L328.17 284.06 L328.87 284.06 L329.57 284.06 L330.26 284.06 L330.96 284.06 L331.66 284.06 L332.35 284.06 L333.05 284.06 L333.75 284.06 L334.44 284.06 L335.14 284.06 L335.84 284.06 L336.53 284.06 L337.23 284.06 L337.93 284.06 L338.62 284.06 L339.32 284.06 L340.02 284.06 L340.71 284.06 L341.41 284.06 L342.11 284.06 L342.80 284.06 L343.50 284.06 L344.20 284.06 L344.89 284.06 L345.59 284.06 L346.29 284.06 L346.98 284.06 L347.68 284.06 L348.38 284.06 L349.07 284.06 L349.77 284.06 L350.47 284.06 L351.16 284.06 L351.86 284.06 L352.56 284.06 L353.25 284.06 L353.95 284.06 L354.65 284.06 L355.34 284.06 L356.04 284.06 L356.74 284.06 L357.43 284.06 L358.13 284.06 L358.83 284.06 L359.52 284.06 L360.22 284.06 L360.92 284.06 L361.61 284.06 L362.31 284.06 L363.01 284.06 L363.70 284.06 L364.40 284.06 L365.10 284.06 L365.79 284.06 L366.49 284.06 L367.19 284.06 L367.89 284.06 L368.58 284.06 L369.28 284.06 L369.98 284.06 L370.67 284.06 L371.37 284.06 L372.07 284.06 L372.76 284.06 L373.46 284.06 L374.16 284.06 L374.85 284.06 L375.55 284.06 L376.25 284.06 L376.94 284.06 L377.64 284.06 L378.34 284.06 L379.03 284.06 L379.73 284.06 L380.43 284.06 L381.12 284.06 L381.82 284.06 L382.52 284.06 L383.21 284.06 L383.91 284.06 L384.61 284.06 L385.30 284.06 L386.00 284.06 L386.70 284.06 L387.39 284.06 L388.09 284.06 L388.79 284.06 L389.48 284.06 L390.18 284.06 L390.88 284.06 L391.57 284.06 L392.27 284.06 L392.97 284.06 L393.66 284.06 L394.36 284.06 L395.06 284.06 L395.75 284.06 L396.45 284.06 L397.15 284.06 L397.84 284.06 L398.54 284.06 L399.24 284.06 L399.93 284.06 L400.63 284.06 L401.33 284.06 L402.02 284.06 L402.72 284.06 L403.42 284.06 L404.11 284.06 L404.81 284.06 L405.51 284.06 L406.20 284.06 L406.90 284.06 L407.60 284.06 L408.29 284.06 L408.99 284.06 L409.69 284.06 L410.39 284.06 L411.08 284.06 L411.78 284.06 L412.48 284.06 L413.17 284.06 L413.87 284.06 L414.57 284.06 L415.26 284.06 L415.96 284.06 L416.66 284.06 L417.35 284.06 L418.05 284.06 L418.75 284.06 L419.44 284.06 L420.14 284.06 L420.84 284.06 L421.53 284.06 L422.23 284.06 L422.93 284.06 L423.62 284.06 L424.32 284.06 L425.02 284.06 L425.71 284.06 L426.41 284.06 L427.11 284.06 L427.80 284.06 L428.50 284.06 L429.20 284.06 L429.89 284.06 L430.59 284.06 L431.29 284.06 L431.98 284.06 L432.68 284.06 L433.38 284.06 L434.07 284.06 L434.77 284.06 L435.47 284.06 L436.16 284.06 L436.86 284.06 L437.56 284.06 L438.25 284.06 L438.95 284.06 L439.65 284.06 L440.34 284.06 L441.04 284.06 L441.74 284.06 L442.43 284.06 L443.13 284.06 L443.83 284.06 L444.52 284.06 L445.22 284.06 L445.92 284.06 L446.61 284.06 L447.31 284.06 L448.01 284.06 L448.70 284.06 L449.40 284.06 L450.10 284.06 L450.79 284.06 L451.49 284.06 L452.19 284.06 L452.89 284.06 L453.58 284.06 L454.28 284.06 L454.98 284.06 L455.67 284.06 L456.37 284.06 L457.07 284.06 L457.76 284.06 L458.46 284.06 L459.16 284.06 L459.85 284.06 L460.55 284.06 L461.25 284.06 L461.94 284.06 L462.64 284.06 L463.34 284.06 L464.03 284.06 L464.73 284.06 L465.43 284.06 L466.12 284.06 L466.82 284.06 L467.52 284.06 L468.21 284.06 L468.91 284.06 L469.61 284.06 L470.30 284.06 L471.00 284.06 L471.70 284.06 L472.39 284.06 L473.09 284.06 L473.79 284.06 L474.48 284.06 L475.18 284.06 L475.88 284.06 L476.57 284.06 L477.27 284.06 L477.97 284.06 L478.66 284.06 L479.36 284.06 L480.06 284.06 L480.75 284.06 L481.45 284.06 L482.15 284.06 L482.84 284.06 L483.54 284.06 L484.24 284.06 L484.93 284.06 L485.63 284.06 L486.33 284.06 L487.02 284.06 L487.72 284.06 L488.42 284.06 L489.11 284.06 L489.81 284.06 L490.51 284.06 L491.20 284.06 L491.90 284.06 L492.60 284.06 L493.29 284.06 L493.99 284.06 L494.69 284.06 L495.39 284.06 L496.08 284.06 L496.78 284.06 L497.48 284.06 L498.17 284.06 L498.87 284.06 L499.57 284.06 L500.26 284.06 L500.96 284.06 L501.66 284.06 L502.35 284.06 L503.05 284.06 L503.75 284.06 L504.44 284.06 L505.14 284.06 L505.84 284.06 L506.53 284.06 L507.23 284.06 L507.93 284.06 L508.62 284.06 L509.32 284.06 L510.02 284.06 L510.71 284.06 L511.41 284.06 L512.11 284.06 L512.80 284.06 L513.50 284.06 L514.20 284.06 L514.89 284.06 L515.59 284.06 L516.29 284.06 L516.98 284.06 L517.68 284.06 L518.38 284.06 L519.07 284.06 L519.77 284.06 L520.47 284.06 L521.16 284.06 L521.86 284.06 L522.56 284.06 L523.25 284.06 L523.95 284.06 L524.65 284.06 L525.34 284.06 L526.04 284.06 L526.74 284.06 L527.43 284.06 L528.13 284.06 L528.83 284.06 L529.52 284.06 L530.22 284.06 L530.92 284.06 L531.61 284.06 L532.31 284.06 L533.01 284.06 L533.70 284.06 L534.40 284.06 L535.10 284.06 L535.79 284.06 L536.49 284.06 L537.19 284.06 L537.89 284.06 L538.58 284.06 L539.28 284.06 L539.98 284.06 L540.67 284.06 L541.37 284.06 L542.07 284.06 L542.76 284.06 L543.46 284.06 L544.16 284.06 L544.85 284.06 L545.55 284.06 L546.25 284.06 L546.94 284.06 L547.64 284.06 L548.34 284.06 L549.03 284.06 L549.73 284.06 L550.43 284.06 L551.12 284.06 L551.82 284.06 L552.52 284.06 L553.21 284.06 L553.91 284.06 L554.61 284.06 L555.30 284.06 L556.00 284.06 L556.70 284.06 L557.39 284.06 L558.09 284.06 L558.79 284.06 L559.48 284.06 L560.18 284.06 L560.88 284.06 L561.57 284.06 L562.27 284.06 L562.97 284.06 L563.66 284.06 L564.36 284.06 L565.06 284.06 L565.75 284.06 L566.45 284.06 L567.15 284.06 L567.84 284.06 L568.54 284.06 L569.24 284.06 L569.93 284.06 L570.63 284.06 L571.33 284.06 L572.02 284.06 L572.72 284.06 L573.42 284.06 L574.11 284.06 L574.81 284.06 L575.51 284.06" stroke="#cc0000" stroke-width="2.2"/>
</g>
<g stroke="#686868" stroke-width="1" fill="none">
<path d="M88.50 201.20 V395.40 M575.50 201.20 V395.40"/>
<path d="M88.00 201.20 H576.00" stroke="#8a8a8a"/>
<path d="M88.00 395.40 H576.00" stroke="#767676"/>
<path stroke="#3c3c3c" d="M88.50 395.40 v-2.50 M88.50 201.20 v2.50 M108.79 395.40 v-2.50 M108.79 201.20 v2.50 M129.08 395.40 v-2.50 M129.08 201.20 v2.50 M149.38 395.40 v-4.40 M149.38 201.20 v4.40 M169.67 395.40 v-2.50 M169.67 201.20 v2.50 M189.96 395.40 v-2.50 M189.96 201.20 v2.50 M210.25 395.40 v-2.50 M210.25 201.20 v2.50 M230.54 395.40 v-2.50 M230.54 201.20 v2.50 M250.84 395.40 v-4.40 M250.84 201.20 v4.40 M271.13 395.40 v-2.50 M271.13 201.20 v2.50 M291.42 395.40 v-2.50 M291.42 201.20 v2.50 M311.71 395.40 v-2.50 M311.71 201.20 v2.50 M332.00 395.40 v-2.50 M332.00 201.20 v2.50 M352.30 395.40 v-4.40 M352.30 201.20 v4.40 M372.59 395.40 v-2.50 M372.59 201.20 v2.50 M392.88 395.40 v-2.50 M392.88 201.20 v2.50 M413.17 395.40 v-2.50 M413.17 201.20 v2.50 M433.46 395.40 v-2.50 M433.46 201.20 v2.50 M453.76 395.40 v-4.40 M453.76 201.20 v4.40 M474.05 395.40 v-2.50 M474.05 201.20 v2.50 M494.34 395.40 v-2.50 M494.34 201.20 v2.50 M514.63 395.40 v-2.50 M514.63 201.20 v2.50 M534.92 395.40 v-2.50 M534.92 201.20 v2.50 M555.22 395.40 v-4.40 M555.22 201.20 v4.40 M575.51 395.40 v-2.50 M575.51 201.20 v2.50 M88.50 386.80 h2.50 M575.50 386.80 h-2.50 M88.50 377.95 h2.50 M575.50 377.95 h-2.50 M88.50 369.10 h4.40 M575.50 369.10 h-4.40 M88.50 360.25 h2.50 M575.50 360.25 h-2.50 M88.50 351.40 h2.50 M575.50 351.40 h-2.50 M88.50 342.55 h2.50 M575.50 342.55 h-2.50 M88.50 333.70 h4.40 M575.50 333.70 h-4.40 M88.50 324.85 h2.50 M575.50 324.85 h-2.50 M88.50 316.00 h2.50 M575.50 316.00 h-2.50 M88.50 307.15 h2.50 M575.50 307.15 h-2.50 M88.50 298.30 h4.40 M575.50 298.30 h-4.40 M88.50 289.45 h2.50 M575.50 289.45 h-2.50 M88.50 280.60 h2.50 M575.50 280.60 h-2.50 M88.50 271.75 h2.50 M575.50 271.75 h-2.50 M88.50 262.90 h4.40 M575.50 262.90 h-4.40 M88.50 254.05 h2.50 M575.50 254.05 h-2.50 M88.50 245.20 h2.50 M575.50 245.20 h-2.50 M88.50 236.35 h2.50 M575.50 236.35 h-2.50 M88.50 227.50 h4.40 M575.50 227.50 h-4.40 M88.50 218.65 h2.50 M575.50 218.65 h-2.50 M88.50 209.80 h2.50 M575.50 209.80 h-2.50"/>
</g>
<clipPath id="b1"><rect x="88.00" y="200.70" width="488.30" height="195.90"/></clipPath>
<g clip-path="url(#b1)" fill="none" stroke-linejoin="round">
<path d="M235.62 265.44 L235.73 265.64 L235.85 265.84 L235.96 266.04 L236.07 266.24 L236.19 266.44 L236.30 266.64 L236.42 266.84 L236.53 267.05 L236.65 267.25 L236.76 267.45 L236.88 267.66 L236.99 267.86 L237.10 268.07 L237.22 268.27 L237.33 268.48 L237.45 268.69 L237.56 268.90 L237.68 269.11 L237.79 269.31 L237.91 269.52 L238.02 269.73 L238.13 269.95 L238.25 270.16 L238.36 270.37 L238.48 270.58 L238.59 270.80 L238.71 271.01 L238.82 271.23 L238.94 271.44 L239.05 271.66 L239.16 271.87 L239.28 272.09 L239.39 272.31 L239.51 272.53 L239.62 272.75 L239.74 272.97 L239.85 273.19 L239.97 273.41 L240.08 273.63 L240.19 273.85 L240.31 274.08 L240.42 274.30 L240.54 274.52 L240.65 274.75 L240.77 274.98 L240.88 275.20 L241.00 275.43 L241.11 275.66 L241.22 275.88 L241.34 276.11 L241.45 276.34 L241.57 276.57 L241.68 276.80 L241.80 277.04 L241.91 277.27 L242.02 277.50 L242.14 277.73 L242.25 277.97 L242.37 278.20 L242.48 278.44 L242.60 278.68 L242.71 278.91 L242.83 279.15 L242.94 279.39 L243.05 279.63 L243.17 279.87 L243.28 280.11 L243.40 280.35 L243.51 280.59 L243.63 280.83 L243.74 281.08 L243.86 281.32 L243.97 281.56 L244.08 281.81 L244.20 282.06 L244.31 282.30 L244.43 282.55 L244.54 282.80 L244.66 283.05 L244.77 283.30 L244.89 283.55 L245.00 283.80 L245.11 284.05 L245.23 284.30 L245.34 284.55 L245.46 284.81 L245.57 285.06 L245.69 285.32 L245.80 285.57 L245.92 285.83 L246.03 286.09 L246.14 286.35 L246.26 286.61 L246.37 286.86 L246.49 287.13 L246.60 287.39 L246.72 287.65 L246.83 287.91 L246.95 288.17 L247.06 288.44 L247.17 288.70 L247.29 288.97 L247.40 289.24 L247.52 289.50 L247.63 289.77 L247.75 290.04 L247.86 290.31 L247.98 290.58 L248.09 290.85 L248.20 291.12 L248.32 291.39 L248.43 291.67 L248.55 291.94 L248.66 292.22 L248.78 292.49 L248.89 292.77 L249.01 293.05 L249.12 293.32 L249.23 293.60 L249.35 293.88 L249.46 294.16 L249.58 294.44 L249.69 294.73 L249.81 295.01 L249.92 295.29 L250.03 295.58 L250.15 295.86 L250.26 296.15 L250.38 296.43 L250.49 296.72 L250.61 297.01 L250.72 297.30 L250.84 297.59 L250.95 297.88 L251.06 298.17 L251.18 298.47 L251.29 298.76 L251.41 299.05 L251.52 299.35 L251.64 299.64 L251.75 299.94 L251.87 300.24 L251.98 300.54 L252.09 300.84 L252.21 301.14 L252.32 301.44 L252.44 301.74 L252.55 302.04 L252.67 302.34 L252.78 302.65 L252.90 302.95 L253.01 303.26 L253.12 303.57 L253.24 303.88 L253.35 304.18 L253.47 304.49 L253.58 304.80 L253.70 305.11 L253.81 305.43 L253.93 305.74 L254.04 306.05 L254.15 306.37 L254.27 306.68 L254.38 307.00 L254.50 307.32 L254.61 307.64 L254.73 307.96 L254.84 308.28 L254.96 308.60 L255.07 308.92 L255.18 309.24 L255.30 309.57 L255.41 309.89 L255.53 310.22 L255.64 310.54 L255.76 310.87 L255.87 311.20 L255.99 311.53 L256.10 311.86 L256.21 312.19 L256.33 312.52 L256.44 312.85 L256.56 313.19 L256.67 313.52 L256.79 313.86 L256.90 314.20 L257.02 314.53 L257.13 314.87 L257.24 315.21 L257.36 315.55 L257.47 315.89 L257.59 316.24 L257.70 316.58 L257.82 316.92 L257.93 317.27 L258.04 317.61 L258.16 317.96 L258.27 318.31 L258.39 318.66 L258.50 319.01 L258.62 319.36 L258.73 319.71 L258.85 320.07 L258.96 320.42 L259.07 320.77 L259.19 321.13 L259.30 321.49 L259.42 321.85 L259.53 322.21 L259.65 322.57 L259.76 322.93 L259.88 323.29 L259.99 323.65 L260.10 324.02 L260.22 324.38 L260.33 324.75 L260.45 325.11 L260.56 325.48 L260.68 325.85 L260.79 326.22 L260.91 326.59 L261.02 326.96 L261.13 327.34 L261.25 327.71 L261.36 328.09 L261.48 328.46 L261.59 328.84 L261.71 329.22 L261.82 329.60 L261.94 329.98 L262.05 330.36 L262.16 330.75 L262.28 331.13 L262.39 331.51 L262.51 331.90 L262.62 332.29 L262.74 332.68 L262.85 333.06 L262.97 333.45 L263.08 333.85 L263.19 334.24 L263.31 334.63 L263.42 335.03 L263.54 335.42 L263.65 335.82 L263.77 336.22 L263.88 336.62 L264.00 337.02 L264.11 337.42 L264.22 337.82 L264.34 338.22 L264.45 338.63 L264.57 339.03 L264.68 339.44 L264.80 339.85 L264.91 340.26 L265.03 340.67 L265.14 341.08 L265.25 341.49 L265.37 341.91 L265.48 342.32 L265.60 342.74 L265.71 343.15 L265.83 343.57 L265.94 343.99 L266.05 344.41 L266.17 344.83 L266.28 345.26 L266.40 345.68 L266.51 346.11 L266.63 346.53 L266.74 346.96 L266.86 347.39 L266.97 347.82 L267.08 348.25 L267.20 348.68 L267.31 349.12 L267.43 349.55 L267.54 349.99 L267.66 350.42 L267.77 350.86 L267.89 351.30 L268.00 351.74 L268.11 352.19 L268.23 352.63 L268.34 353.07 L268.46 353.52 L268.57 353.97 L268.69 354.41 L268.80 354.86 L268.92 355.31 L269.03 355.77 L269.14 356.22 L269.26 356.67 L269.37 357.13 L269.49 357.59 L269.60 358.04 L269.72 358.50 L269.83 358.96 L269.95 359.43 L270.06 359.89 L270.17 360.35 L270.29 360.82 L270.40 361.29 L270.52 361.75 L270.63 362.22 L270.75 362.69 L270.86 363.17 L270.98 363.64 L271.09 364.12 L271.20 364.59 L271.32 365.07 L271.43 365.55 L271.55 366.03 L271.66 366.51 L271.78 366.99 L271.89 367.48 L272.01 367.96 L272.12 368.45 L272.23 368.94 L272.35 369.42 L272.46 369.92 L272.58 370.41 L272.69 370.90 L272.81 371.40 L272.92 371.89 L273.04 372.39 L273.15 372.89 L273.26 373.39 L273.38 373.89 L273.49 374.39 L273.61 374.90 L273.72 375.40 L273.84 375.91 L273.95 376.42 L274.06 376.93 L274.18 377.44 L274.29 377.95 L274.41 378.47 L274.52 378.98 L274.64 379.50 L274.75 380.02 L274.87 380.54 L274.98 381.06 L275.09 381.58 L275.21 382.10 L275.32 382.63 L275.44 383.16 L275.55 383.68 L275.67 384.21 L275.78 384.75 L275.90 385.28 L276.01 385.81 L276.12 386.35 L276.24 386.88 L276.35 387.42 L276.47 387.96 L276.58 388.50 L276.70 389.05 L276.81 389.59 L276.93 390.14 L277.04 390.69 L277.15 391.23 L277.27 391.78 L277.38 392.34" stroke="#0000c8" stroke-width="2.7" stroke-dasharray="7.9 3.9" stroke-dashoffset="2.90"/>
<path d="M88.50 204.68 L89.20 204.69 L89.89 204.70 L90.59 204.70 L91.29 204.71 L91.98 204.72 L92.68 204.73 L93.38 204.74 L94.07 204.75 L94.77 204.76 L95.47 204.77 L96.16 204.78 L96.86 204.80 L97.56 204.81 L98.25 204.82 L98.95 204.83 L99.65 204.85 L100.34 204.86 L101.04 204.87 L101.74 204.89 L102.43 204.90 L103.13 204.92 L103.83 204.94 L104.52 204.95 L105.22 204.97 L105.92 204.99 L106.61 205.00 L107.31 205.02 L108.01 205.04 L108.70 205.06 L109.40 205.08 L110.10 205.10 L110.80 205.12 L111.49 205.14 L112.19 205.17 L112.89 205.19 L113.58 205.21 L114.28 205.24 L114.98 205.27 L115.67 205.29 L116.37 205.32 L117.07 205.35 L117.76 205.37 L118.46 205.40 L119.16 205.43 L119.85 205.46 L120.55 205.50 L121.25 205.53 L121.94 205.56 L122.64 205.60 L123.34 205.63 L124.03 205.67 L124.73 205.71 L125.43 205.75 L126.12 205.79 L126.82 205.83 L127.52 205.87 L128.21 205.91 L128.91 205.96 L129.61 206.00 L130.30 206.05 L131.00 206.10 L131.70 206.15 L132.39 206.20 L133.09 206.25 L133.79 206.30 L134.48 206.36 L135.18 206.41 L135.88 206.47 L136.57 206.53 L137.27 206.59 L137.97 206.65 L138.66 206.71 L139.36 206.78 L140.06 206.85 L140.75 206.92 L141.45 206.99 L142.15 207.06 L142.84 207.13 L143.54 207.21 L144.24 207.29 L144.93 207.37 L145.63 207.45 L146.33 207.53 L147.02 207.62 L147.72 207.71 L148.42 207.80 L149.11 207.89 L149.81 207.99 L150.51 208.09 L151.20 208.19 L151.90 208.29 L152.60 208.39 L153.30 208.50 L153.99 208.61 L154.69 208.72 L155.39 208.84 L156.08 208.96 L156.78 209.08 L157.48 209.20 L158.17 209.33 L158.87 209.46 L159.57 209.59 L160.26 209.73 L160.96 209.87 L161.66 210.01 L162.35 210.16 L163.05 210.31 L163.75 210.46 L164.44 210.62 L165.14 210.78 L165.84 210.94 L166.53 211.11 L167.23 211.28 L167.93 211.46 L168.62 211.64 L169.32 211.82 L170.02 212.01 L170.71 212.20 L171.41 212.39 L172.11 212.60 L172.80 212.80 L173.50 213.01 L174.20 213.22 L174.89 213.44 L175.59 213.67 L176.29 213.89 L176.98 214.13 L177.68 214.37 L178.38 214.61 L179.07 214.86 L179.77 215.11 L180.47 215.37 L181.16 215.64 L181.86 215.91 L182.56 216.19 L183.25 216.47 L183.95 216.76 L184.65 217.06 L185.34 217.36 L186.04 217.67 L186.74 217.98 L187.43 218.30 L188.13 218.63 L188.83 218.96 L189.52 219.30 L190.22 219.65 L190.92 220.01 L191.61 220.37 L192.31 220.74 L193.01 221.12 L193.70 221.51 L194.40 221.90 L195.10 222.30 L195.80 222.71 L196.49 223.13 L197.19 223.56 L197.89 223.99 L198.58 224.43 L199.28 224.89 L199.98 225.35 L200.67 225.82 L201.37 226.30 L202.07 226.79 L202.76 227.29 L203.46 227.80 L204.16 228.32 L204.85 228.85 L205.55 229.39 L206.25 229.94 L206.94 230.50 L207.64 231.07 L208.34 231.65 L209.03 232.24 L209.73 232.85 L210.43 233.47 L211.12 234.10 L211.82 234.74 L212.52 235.39 L213.21 236.06 L213.91 236.74 L214.61 237.43 L215.30 238.13 L216.00 238.85 L216.70 239.58 L217.39 240.32 L218.09 241.08 L218.79 241.86 L219.48 242.64 L220.18 243.45 L220.88 244.26 L221.57 245.09 L222.27 245.94 L222.97 246.80 L223.66 247.68 L224.36 248.58 L225.06 249.49 L225.75 250.42 L226.45 251.36 L227.15 252.32 L227.84 253.30 L228.54 254.30 L229.24 255.31 L229.93 256.34 L230.63 257.39 L231.33 258.46 L232.02 259.55 L232.72 260.65 L233.42 261.78 L234.11 262.92 L234.81 264.08 L235.51 265.26 L236.20 266.45 L236.90 267.67 L237.60 268.90 L238.30 270.14 L238.99 271.40 L239.69 272.67 L240.39 273.96 L241.08 275.25 L241.78 276.54 L242.48 277.84 L243.17 279.14 L243.87 280.43 L244.57 281.70 L245.26 282.96 L245.96 284.19 L246.66 285.39 L247.35 286.55 L248.05 287.67 L248.75 288.74 L249.44 289.75 L250.14 290.71 L250.84 291.60 L251.53 292.44 L252.23 293.22 L252.93 293.95 L253.62 294.62 L254.32 295.24 L255.02 295.82 L255.71 296.36 L256.41 296.86 L257.11 297.32 L257.80 297.75 L258.50 298.16 L259.20 298.54 L259.89 298.89 L260.59 299.23 L261.29 299.55 L261.98 299.85 L262.68 300.14 L263.38 300.41 L264.07 300.67 L264.77 300.91 L265.47 301.15 L266.16 301.37 L266.86 301.59 L267.56 301.79 L268.25 301.99 L268.95 302.18 L269.65 302.37 L270.34 302.54 L271.04 302.71 L271.74 302.88 L272.43 303.03 L273.13 303.19 L273.83 303.34 L274.52 303.48 L275.22 303.62 L275.92 303.75 L276.61 303.88 L277.31 304.01 L278.01 304.13 L278.70 304.25 L279.40 304.36 L280.10 304.47 L280.80 304.58 L281.49 304.69 L282.19 304.79 L282.89 304.89 L283.58 304.99 L284.28 305.09 L284.98 305.18 L285.67 305.27 L286.37 305.36 L287.07 305.44 L287.76 305.53 L288.46 305.61 L289.16 305.69 L289.85 305.77 L290.55 305.85 L291.25 305.92 L291.94 306.00 L292.64 306.07 L293.34 306.14 L294.03 306.21 L294.73 306.28 L295.43 306.34 L296.12 306.41 L296.82 306.47 L297.52 306.53 L298.21 306.60 L298.91 306.66 L299.61 306.72 L300.30 306.77 L301.00 306.83 L301.70 306.89 L302.39 306.94 L303.09 307.00 L303.79 307.05 L304.48 307.10 L305.18 307.16 L305.88 307.21 L306.57 307.26 L307.27 307.31 L307.97 307.36 L308.66 307.41 L309.36 307.45 L310.06 307.50 L310.75 307.55 L311.45 307.59 L312.15 307.64 L312.84 307.69 L313.54 307.73 L314.24 307.77 L314.93 307.82 L315.63 307.86 L316.33 307.91 L317.02 307.95 L317.72 307.99 L318.42 308.03 L319.11 308.08 L319.81 308.12 L320.51 308.16 L321.20 308.20 L321.90 308.24 L322.60 308.28 L323.29 308.32 L323.99 308.36 L324.69 308.40 L325.39 308.44 L326.08 308.48 L326.78 308.53 L327.48 308.57 L328.17 308.61 L328.87 308.65 L329.57 308.69 L330.26 308.73 L330.96 308.77 L331.66 308.81 L332.35 308.85 L333.05 308.89 L333.75 308.93 L334.44 308.97 L335.14 309.01 L335.84 309.06 L336.53 309.10 L337.23 309.14 L337.93 309.18 L338.62 309.23 L339.32 309.27 L340.02 309.31 L340.71 309.36 L341.41 309.40 L342.11 309.45 L342.80 309.49 L343.50 309.54 L344.20 309.59 L344.89 309.64 L345.59 309.68 L346.29 309.73 L346.98 309.78 L347.68 309.83 L348.38 309.88 L349.07 309.94 L349.77 309.99 L350.47 310.04 L351.16 310.10 L351.86 310.15 L352.56 310.21 L353.25 310.27 L353.95 310.33 L354.65 310.39 L355.34 310.45 L356.04 310.51 L356.74 310.57 L357.43 310.64 L358.13 310.71 L358.83 310.77 L359.52 310.84 L360.22 310.91 L360.92 310.99 L361.61 311.06 L362.31 311.14 L363.01 311.22 L363.70 311.30 L364.40 311.38 L365.10 311.46 L365.79 311.55 L366.49 311.63 L367.19 311.72 L367.89 311.82 L368.58 311.91 L369.28 312.01 L369.98 312.11 L370.67 312.21 L371.37 312.32 L372.07 312.43 L372.76 312.54 L373.46 312.65 L374.16 312.77 L374.85 312.89 L375.55 313.01 L376.25 313.14 L376.94 313.27 L377.64 313.41 L378.34 313.55 L379.03 313.69 L379.73 313.84 L380.43 313.99 L381.12 314.15 L381.82 314.31 L382.52 314.47 L383.21 314.65 L383.91 314.82 L384.61 315.00 L385.30 315.19 L386.00 315.38 L386.70 315.58 L387.39 315.79 L388.09 316.00 L388.79 316.22 L389.48 316.44 L390.18 316.67 L390.88 316.91 L391.57 317.16 L392.27 317.42 L392.97 317.68 L393.66 317.95 L394.36 318.23 L395.06 318.52 L395.75 318.82 L396.45 319.13 L397.15 319.45 L397.84 319.78 L398.54 320.12 L399.24 320.47 L399.93 320.84 L400.63 321.21 L401.33 321.60 L402.02 322.00 L402.72 322.42 L403.42 322.85 L404.11 323.29 L404.81 323.75 L405.51 324.23 L406.20 324.72 L406.90 325.23 L407.60 325.75 L408.29 326.30 L408.99 326.86 L409.69 327.44 L410.39 328.04 L411.08 328.67 L411.78 329.31 L412.48 329.98 L413.17 330.67 L413.87 331.39 L414.57 332.13 L415.26 332.90 L415.96 333.70 L416.66 334.52 L417.35 335.38 L418.05 336.26 L418.75 337.18 L419.44 338.13 L420.14 339.11 L420.84 340.13 L421.53 341.19 L422.23 342.29 L422.93 343.42 L423.62 344.60 L424.32 345.82 L425.02 347.09 L425.71 348.40 L426.41 349.76 L427.11 351.17 L427.80 352.64 L428.50 354.16 L429.20 355.73 L429.89 357.37 L430.59 359.07 L431.29 360.83 L431.98 362.65 L432.68 364.55 L433.38 366.52 L434.07 368.56 L434.77 370.68 L435.47 372.89 L436.16 375.17 L436.86 377.55 L437.56 380.01 L438.25 382.57 L438.95 385.23 L439.65 388.00 L440.34 390.87 L441.04 393.85 L441.74 396.95 L442.43 400.17 L443.13 403.51 L443.83 406.99" stroke="#0000c8" stroke-width="3.1"/>
</g>
<text x="83.7" y="232.30" text-anchor="end">4</text>
<text x="64.25" y="233.30" stroke-width="0.5">−</text>
<text x="83.7" y="267.70" text-anchor="end">6</text>
<text x="64.25" y="268.70" stroke-width="0.5">−</text>
<text x="83.7" y="303.10" text-anchor="end">8</text>
<text x="64.25" y="304.10" stroke-width="0.5">−</text>
<text x="83.7" y="338.50" text-anchor="end">0</text>
<path d="M763 0H583V1147Q518 1085 412.5 1023T223 930V1104Q374 1175 487 1276T647 1472H763Z" transform="translate(66.40 338.50) scale(0.00781 -0.00781)" fill="#111" stroke="#111" stroke-width="32.0" />
<text x="55.60" y="339.50" stroke-width="0.5">−</text>
<text x="83.7" y="373.90" text-anchor="end">2</text>
<path d="M763 0H583V1147Q518 1085 412.5 1023T223 930V1104Q374 1175 487 1276T647 1472H763Z" transform="translate(66.40 373.90) scale(0.00781 -0.00781)" fill="#111" stroke="#111" stroke-width="32.0" />
<text x="55.60" y="374.90" stroke-width="0.5">−</text>
<g class="al" transform="translate(40.3 298.30) rotate(-90)"><text x="-24.2" y="0">log</text><text x="4.23" y="4.3" font-size="12.1">0</text><path d="M763 0H583V1147Q518 1085 412.5 1023T223 930V1104Q374 1175 487 1276T647 1472H763Z" transform="translate(-2.50 4.30) scale(0.00591 -0.00591)" fill="#111" stroke="#111" stroke-width="42.3" /><text x="13.2" y="0">Y</text></g>
<text x="149.18" y="414.5" text-anchor="middle">0</text>
<path d="M763 0H583V1147Q518 1085 412.5 1023T223 930V1104Q374 1175 487 1276T647 1472H763Z" transform="translate(246.19 414.50) scale(0.00781 -0.00781)" fill="#111" stroke="#111" stroke-width="32.0" />
<text x="352.10" y="414.5" text-anchor="middle">2</text>
<text x="453.56" y="414.5" text-anchor="middle">3</text>
<text x="555.02" y="414.5" text-anchor="middle">4</text>
<g class="al"><text x="309.0" y="440.6">log</text><text x="337.43" y="444.8" font-size="12.1">0</text><path d="M763 0H583V1147Q518 1085 412.5 1023T223 930V1104Q374 1175 487 1276T647 1472H763Z" transform="translate(330.70 444.80) scale(0.00591 -0.00591)" fill="#111" stroke="#111" stroke-width="42.3" /><text x="346.6" y="440.6">x</text></g>
</svg>
</body></html>
